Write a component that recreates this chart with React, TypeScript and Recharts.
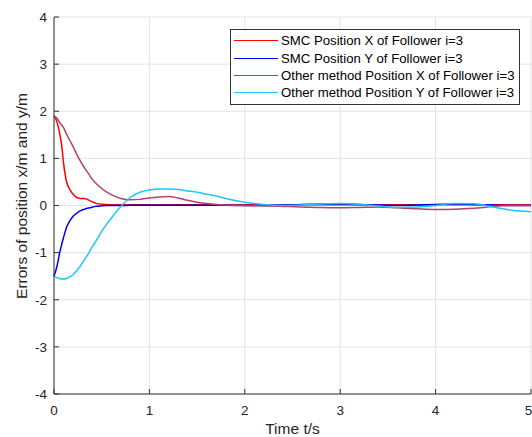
import { LineChart, Line, XAxis, YAxis, CartesianGrid, Legend } from 'recharts'

const FONT = '"Liberation Sans", Arial, Helvetica, sans-serif'
const AXIS = '#333333'
const TEXT = '#262626'

// time samples (s), denser near the start where the curves move fast
const time = [
  0, 0.03, 0.06, 0.08, 0.1, 0.13, 0.16, 0.2, 0.24, 0.28, 0.32, 0.36, 0.4, 0.45, 0.5, 0.55, 0.6,
  0.7, 0.8, 0.9, 1.0, 1.1, 1.2, 1.3, 1.4, 1.5, 1.6, 1.7, 1.8, 2.0, 2.2, 2.4, 2.6, 2.8, 3.0, 3.2,
  3.4, 3.6, 3.8, 4.0, 4.2, 4.4, 4.6, 4.8, 5.0,
]

const smcX = [
  1.9, 1.78, 1.52, 1.28, 0.9, 0.52, 0.36, 0.24, 0.17, 0.15, 0.15, 0.12, 0.08, 0.04, 0.025, 0.02, 0.015,
  0.015, 0.015, 0.015, 0.015, 0.015, 0.015, 0.015, 0.015, 0.015, 0.015, 0.015, 0.015, 0.015, 0.015, 0.015, 0.015, 0.015, 0.015, 0.015,
  0.015, 0.015, 0.015, 0.015, 0.015, 0.015, 0.015, 0.015, 0.015,
]

const smcY = [
  -1.5, -1.3, -1.0, -0.83, -0.68, -0.47, -0.35, -0.23, -0.16, -0.11, -0.08, -0.055, -0.035, -0.018, -0.008, 0, 0,
  0, 0.003, 0.005, 0.005, 0.005, 0.005, 0.005, 0.005, 0.005, 0.005, 0.005, 0.005, 0.0, 0.005, 0.01, 0.02, 0.03, 0.03, 0.02,
  0.01, 0.0, 0.01, 0.02, 0.03, 0.02, 0.01, 0.0, 0.0,
]

const otherX = [
  1.9, 1.85, 1.76, 1.71, 1.65, 1.52, 1.4, 1.25, 1.08, 0.93, 0.8, 0.68, 0.56, 0.45, 0.36, 0.29, 0.23,
  0.15, 0.12, 0.13, 0.16, 0.18, 0.19, 0.16, 0.11, 0.07, 0.04, 0.02, 0.01, 0.0, -0.01, -0.02, -0.03, -0.045, -0.05, -0.04,
  -0.03, -0.05, -0.07, -0.085, -0.08, -0.06, -0.02, 0.0, 0.0,
]

const otherY = [
  -1.5, -1.53, -1.55, -1.56, -1.56, -1.55, -1.52, -1.47, -1.38, -1.27, -1.15, -1.02, -0.88, -0.72, -0.55, -0.4, -0.27,
  -0.02, 0.17, 0.28, 0.33, 0.35, 0.35, 0.34, 0.31, 0.28, 0.24, 0.2, 0.15, 0.07, 0.02, 0.0, 0.01, 0.03, 0.04, 0.025,
  -0.01, -0.04, -0.03, 0.0, 0.04, 0.035, -0.03, -0.1, -0.13,
]

const xTicks = [0, 1, 2, 3, 4, 5]
const yTicks = [-4, -3, -2, -1, 0, 1, 2, 3, 4]

const SERIES = [
  { key: 'smcX', name: 'SMC Position X of Follower i=3', color: '#ff0000' },
  { key: 'smcY', name: 'SMC Position Y of Follower i=3', color: '#0000f0' },
  { key: 'otherX', name: 'Other method Position X of Follower i=3', color: '#b0426e' },
  { key: 'otherY', name: 'Other method Position Y of Follower i=3', color: '#1ac6ff' },
]

const rows = time.map((t, i) => ({
  t,
  smcX: smcX[i],
  smcY: smcY[i],
  otherX: otherX[i],
  otherY: otherY[i],
}))

// legend keeps the plotting order (recharts sorts its payload by name)
const LegendBox = () => (
  <div
    style={{
      border: `1px solid ${AXIS}`,
      background: '#fff',
      padding: '2px 5px 2px 3px',
      fontFamily: FONT,
      fontSize: 13.2,
      color: '#000',
    }}
  >
    {SERIES.map((s) => (
      <div key={s.key} style={{ display: 'flex', alignItems: 'center', height: 17.4, whiteSpace: 'nowrap' }}>
        <span style={{ width: 44, height: 0, borderTop: `1.4px solid ${s.color}`, marginRight: 3 }} />
        <span>{s.name}</span>
      </div>
    ))}
  </div>
)

const YLabel = () => (
  <text
    x={21}
    y={196}
    transform="rotate(-90 21 196)"
    textAnchor="middle"
    dominantBaseline="central"
    fontFamily={FONT}
    fontSize={15.5}
    fill={TEXT}
  >
    Errors of position x/m and y/m
  </text>
)

export default function App() {
  const tickStyle = { fontFamily: FONT, fontSize: 13.5, fill: TEXT }
  return (
    <div style={{ position: 'absolute', left: 0, top: 0, background: '#fff' }}>
      <LineChart width={532} height={437} data={rows} margin={{ top: 17, right: 1, bottom: 0, left: 0 }}>
        <CartesianGrid stroke="#e3e3e3" strokeWidth={1} />
        <XAxis
          dataKey="t"
          type="number"
          domain={[0, 5]}
          ticks={xTicks}
          height={43}
          stroke={AXIS}
          tickSize={-5}
          tickMargin={16}
          tick={tickStyle}
          label={{ value: 'Time t/s', position: 'insideBottom', offset: 3, fontFamily: FONT, fontSize: 15.5, fill: TEXT }}
        />
        <XAxis
          xAxisId="top"
          dataKey="t"
          type="number"
          orientation="top"
          domain={[0, 5]}
          ticks={xTicks}
          height={0}
          stroke={AXIS}
          tickSize={-5}
          tickFormatter={() => ''}
        />
        <YAxis
          type="number"
          domain={[-4, 4]}
          ticks={yTicks}
          width={54}
          stroke={AXIS}
          tickSize={-5}
          tickMargin={12}
          tick={tickStyle}
          label={<YLabel />}
        />
        <YAxis
          yAxisId="right"
          type="number"
          orientation="right"
          domain={[-4, 4]}
          ticks={yTicks}
          width={0}
          stroke={AXIS}
          tickSize={-5}
          tickFormatter={() => ''}
        />
        <Legend
          layout="vertical"
          align="center"
          verticalAlign="middle"
          wrapperStyle={{ left: 230, top: 29, width: 'auto' }}
          content={<LegendBox />}
        />
        {SERIES.map((s) => (
          <Line
            key={s.key}
            dataKey={s.key}
            name={s.name}
            stroke={s.color}
            strokeWidth={1.5}
            dot={false}
            type="monotone"
            isAnimationActive={false}
          />
        ))}
      </LineChart>
    </div>
  )
}
